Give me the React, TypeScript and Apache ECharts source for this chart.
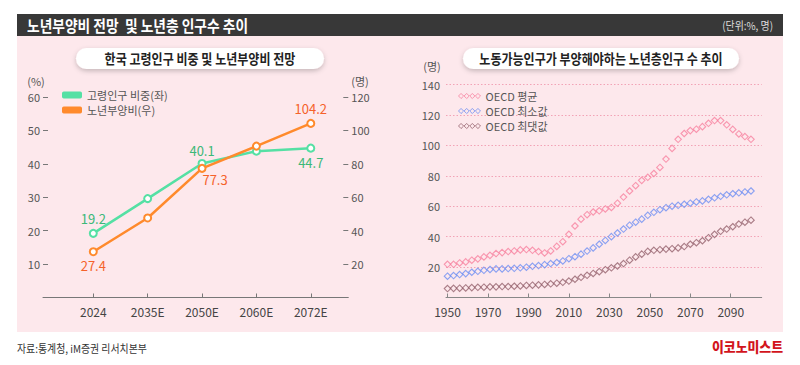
import { useEffect, useRef } from 'react';
import * as echarts from 'echarts';

// ---------- Left chart data ----------
const leftCategories = ['2024', '2035E', '2050E', '2060E', '2072E'];
const elderlyShare = [19.2, 29.6, 40.1, 43.8, 44.7]; // %, left axis
const dependencyRatio = [27.4, 47.6, 77.3, 90.6, 104.2]; // 명, right axis
const leftYTicksInterval = 10;
const rightYTicksInterval = 20;

// ---------- Right chart data ----------
const years = [
  1950, 1953, 1956, 1959, 1962, 1965, 1968, 1971, 1974, 1977,
  1980, 1983, 1986, 1989, 1992, 1995, 1998, 2001, 2004, 2007,
  2010, 2013, 2016, 2019, 2022, 2025, 2028, 2031, 2034, 2037,
  2040, 2043, 2046, 2049, 2052, 2055, 2058, 2061, 2064, 2067,
  2070, 2073, 2076, 2079, 2082, 2085, 2088, 2091, 2094, 2097, 2100,
];
const oecdAvg = [
  21.8, 21.8, 22.7, 23.4, 24.5, 25.4, 26.7, 27.7, 28.9, 29.5,
  30.2, 30.6, 31.3, 31.5, 31.0, 30.2, 29.3, 30.6, 33.6, 36.7,
  41.5, 47.0, 51.5, 54.4, 56.2, 57.0, 58.2, 59.2, 62.0, 66.0,
  70.0, 73.5, 77.0, 79.0, 81.5, 85.5, 91.0, 98.0, 104.0, 107.8,
  109.7, 110.6, 112.3, 114.5, 116.3, 116.3, 113.5, 110.5, 107.5, 105.8, 104.0,
];
const oecdMin = [
  14.0, 14.4, 15.1, 15.7, 16.6, 17.2, 17.9, 18.4, 18.8, 18.8,
  19.0, 19.2, 19.5, 19.9, 20.5, 21.0, 21.6, 22.3, 23.0, 24.0,
  25.5, 26.8, 28.5, 30.5, 32.6, 35.0, 37.5, 40.0, 42.4, 45.0,
  47.5, 49.5, 51.5, 54.0, 56.0, 57.7, 59.0, 60.0, 60.6, 61.3,
  62.0, 62.8, 63.5, 64.5, 65.5, 66.5, 67.5, 68.2, 68.8, 69.4, 70.0,
];
const oecdMax = [
  5.9, 6.0, 6.1, 6.3, 6.5, 6.7, 6.8, 7.0, 7.0, 7.2,
  7.2, 7.4, 7.6, 7.9, 8.1, 8.3, 8.6, 9.0, 9.4, 10.0,
  10.8, 12.0, 13.3, 14.6, 15.8, 17.0, 18.3, 19.5, 20.7, 22.3,
  24.5, 26.7, 28.5, 30.3, 31.0, 31.4, 31.8, 32.1, 32.6, 33.5,
  35.0, 36.0, 37.3, 39.3, 41.5, 43.5, 45.0, 46.5, 48.3, 49.5, 50.8,
];
const rightXTicks = [1950, 1970, 1990, 2010, 2030, 2050, 2070, 2090];

// ---------- Styles ----------
const FONT = "'Noto Sans CJK KR', 'Noto Sans', sans-serif";
const GREEN = '#55e0a4';
const GREEN_TXT = '#3cb878';
const ORANGE = '#ff8a2c';
const ORANGE_TXT = '#f5622a';
const PINK = '#f7819f';
const BLUE = '#6e8ef2';
const BROWN = '#95616d';

const shareLabelSpec: Record<number, any> = {
  0: { position: 'top', distance: 4 },
  2: { position: 'top', distance: 2 },
  4: { position: 'bottom', distance: 3 },
};
const ratioLabelSpec: Record<number, any> = {
  0: { position: 'bottom', distance: 3 },
  2: { position: 'bottom', distance: 0, offset: [13, 0] },
  4: { position: 'top', distance: 4 },
};

const diamondsIcon = (() => {
  const cs = [2.75, 8.25, 13.75, 19.25];
  return (
    'path://' +
    cs.map((c) => `M${c - 2.5},2.75L${c},0.25L${c + 2.5},2.75L${c},5.25Z`).join('')
  );
})();

export default function App() {
  const ref = useRef<HTMLDivElement>(null);

  useEffect(() => {
    if (!ref.current) return;
    const chart = echarts.init(ref.current, undefined, { renderer: 'svg' });

    const mkLabelData = (arr: number[], spec: Record<number, any>, color: string) =>
      arr.map((v, i) => ({
        value: [i, v],
        label: spec[i]
          ? {
              show: true,
              ...spec[i],
              color,
              fontSize: 13,
              fontFamily: FONT,
              formatter: (p: any) => Number(p.value[1]).toFixed(1),
            }
          : { show: false },
      }));

    const ktext = (x: number, y: number, text: string, opts: any = {}) => ({
      type: 'text',
      x,
      y,
      scaleX: opts.scaleX ?? 1,
      z: 10,
      style: {
        text,
        fill: opts.fill ?? '#333',
        font: `${opts.weight ?? 'normal'} ${opts.size ?? 12}px ${FONT}`,
        textAlign: opts.align ?? 'left',
        textVerticalAlign: 'middle',
        verticalAlign: 'middle',
      },
    });

    const option: any = {
      animation: false,
      backgroundColor: '#ffffff',
      textStyle: { fontFamily: FONT },
      graphic: [
        { type: 'rect', z: -1, shape: { x: 17, y: 36, width: 766, height: 296 }, style: { fill: '#fde8ec' } },
        { type: 'rect', z: 1, shape: { x: 17, y: 14, width: 766, height: 22 }, style: { fill: '#383838' } },
        ktext(27, 25, '노년부양비 전망  및 노년층 인구수 추이', { fill: '#ffffff', size: 16, weight: 'bold', scaleX: 0.86 }),
        ktext(773, 25, '(단위:%, 명)', { fill: '#dddddd', size: 11, align: 'right', scaleX: 0.9 }),
        {
          type: 'rect', z: 2,
          shape: { x: 76, y: 48, width: 248, height: 21, r: 10.5 },
          style: { fill: '#ffffff', shadowBlur: 5, shadowColor: 'rgba(0,0,0,0.22)', shadowOffsetY: 2 },
        },
        ktext(200, 58.5, '한국 고령인구 비중 및 노년부양비 전망', { fill: '#222', size: 14, weight: 'bold', align: 'center', scaleX: 0.86 }),
        {
          type: 'rect', z: 2,
          shape: { x: 463, y: 48, width: 276, height: 21, r: 10.5 },
          style: { fill: '#ffffff', shadowBlur: 5, shadowColor: 'rgba(0,0,0,0.22)', shadowOffsetY: 2 },
        },
        ktext(601, 58.5, '노동가능인구가 부양해야하는 노년층인구 수 추이', { fill: '#222', size: 14, weight: 'bold', align: 'center', scaleX: 0.86 }),
        ktext(36, 81, '(%)', { fill: '#555', size: 11, align: 'center' }),
        ktext(360, 81, '(명)', { fill: '#555', size: 11, align: 'center' }),
        ktext(432, 66, '(명)', { fill: '#555', size: 11, align: 'center' }),
        ktext(17, 348, '자료:통계청, iM증권 리서치본부', { fill: '#333', size: 11, scaleX: 0.9 }),
        ktext(783, 345.5, '이코노미스트', { fill: '#d2141c', size: 14, weight: 900, align: 'right', scaleX: 0.92 }),
      ],
      legend: [
        {
          left: 62,
          top: 89,
          padding: 0,
          orient: 'vertical',
          itemWidth: 20,
          itemHeight: 7,
          itemGap: 3,
          icon: 'roundRect',
          textStyle: { fontSize: 11, color: '#555', fontFamily: FONT, lineHeight: 12 },
          data: [
            { name: '고령인구 비중(좌)', itemStyle: { color: GREEN, borderWidth: 0 } },
            { name: '노년부양비(우)', itemStyle: { color: ORANGE, borderWidth: 0 } },
          ],
        },
        {
          left: 458,
          top: 90,
          padding: 0,
          orient: 'vertical',
          itemWidth: 22,
          itemHeight: 5.5,
          itemGap: 3,
          textStyle: { fontSize: 11, color: '#555', fontFamily: FONT, lineHeight: 12 },
          data: [
            { name: 'OECD 평균', icon: diamondsIcon, itemStyle: { color: 'rgba(0,0,0,0)', borderColor: PINK, borderWidth: 1 } },
            { name: 'OECD 최소값', icon: diamondsIcon, itemStyle: { color: 'rgba(0,0,0,0)', borderColor: BLUE, borderWidth: 1 } },
            { name: 'OECD 최댓값', icon: diamondsIcon, itemStyle: { color: 'rgba(0,0,0,0)', borderColor: BROWN, borderWidth: 1 } },
          ],
        },
      ],
      grid: [
        { left: 43, top: 97, width: 305.3, height: 200.5 },
        { left: 446, top: 84.5, width: 315.7, height: 213 },
      ],
      xAxis: [
        {
          gridIndex: 0,
          type: 'value',
          min: -0.925,
          max: 4.69,
          axisLine: { show: true, onZero: false, lineStyle: { color: '#777', width: 1 } },
          axisTick: { show: true, inside: true, length: 4, customValues: [0, 1, 2, 3, 4], lineStyle: { color: '#777' } },
          axisLabel: {
            customValues: [0, 1, 2, 3, 4],
            formatter: (v: number) => leftCategories[Math.round(v)] ?? '',
            fontSize: 12,
            color: '#444',
            margin: 8,
          },
          splitLine: { show: false },
        },
        {
          gridIndex: 1,
          type: 'value',
          min: 1949.26,
          max: 2105.3,
          axisLine: { show: true, onZero: false, lineStyle: { color: '#888', width: 1 } },
          axisTick: { show: true, inside: true, length: 4, customValues: rightXTicks, lineStyle: { color: '#888' } },
          axisLabel: {
            customValues: rightXTicks,
            formatter: (v: number) => String(Math.round(v)),
            fontSize: 12,
            color: '#444',
            margin: 8,
          },
          splitLine: { show: false },
        },
      ],
      yAxis: [
        {
          gridIndex: 0,
          type: 'value',
          position: 'left',
          min: 0,
          max: 60,
          interval: leftYTicksInterval,
          axisLine: { show: false, onZero: false },
          axisTick: { show: true, inside: true, length: 5, lineStyle: { color: '#777' } },
          axisLabel: { showMinLabel: false, fontSize: 11, color: '#555', margin: 3 },
          splitLine: { show: false },
        },
        {
          gridIndex: 0,
          type: 'value',
          position: 'right',
          min: 0,
          max: 120,
          interval: rightYTicksInterval,
          axisLine: { show: false, onZero: false },
          axisTick: { show: true, inside: true, length: 5, lineStyle: { color: '#777' } },
          axisLabel: { showMinLabel: false, fontSize: 11, color: '#555', margin: 3 },
          splitLine: { show: false },
        },
        {
          gridIndex: 1,
          type: 'value',
          min: 0,
          max: 140,
          interval: 20,
          axisLine: { show: false, onZero: false },
          axisTick: { show: false },
          axisLabel: { showMinLabel: false, fontSize: 11, color: '#555', margin: 6 },
          splitLine: { show: true, lineStyle: { color: '#f2a3b6', width: 1, type: [1.5, 2] } },
        },
      ],
      series: [
        {
          name: '고령인구 비중(좌)',
          type: 'line',
          xAxisIndex: 0,
          yAxisIndex: 0,
          data: mkLabelData(elderlyShare, shareLabelSpec, GREEN_TXT),
          symbol: 'emptyCircle',
          symbolSize: 7,
          lineStyle: { width: 2.5, color: GREEN },
          itemStyle: { color: GREEN },
          z: 3,
        },
        {
          name: '노년부양비(우)',
          type: 'line',
          xAxisIndex: 0,
          yAxisIndex: 1,
          data: mkLabelData(dependencyRatio, ratioLabelSpec, ORANGE_TXT),
          symbol: 'emptyCircle',
          symbolSize: 7,
          lineStyle: { width: 2.5, color: ORANGE },
          itemStyle: { color: ORANGE },
          z: 4,
        },
        ...[
          { name: 'OECD 평균', vals: oecdAvg, color: PINK },
          { name: 'OECD 최소값', vals: oecdMin, color: BLUE },
          { name: 'OECD 최댓값', vals: oecdMax, color: BROWN },
        ].map((s) => ({
          name: s.name,
          type: 'scatter',
          xAxisIndex: 1,
          yAxisIndex: 2,
          symbol: 'diamond',
          symbolSize: 6.5,
          data: years.map((y, i) => [y, s.vals[i]]),
          itemStyle: { color: 'rgba(0,0,0,0)', borderColor: s.color, borderWidth: 1.1 },
          emphasis: { disabled: true },
        })),
      ],
    };

    chart.setOption(option);
    return () => chart.dispose();
  }, []);

  return (
    <div
      ref={ref}
      style={{ position: 'fixed', left: 0, top: 0, width: 800, height: 365 }}
    />
  );
}
